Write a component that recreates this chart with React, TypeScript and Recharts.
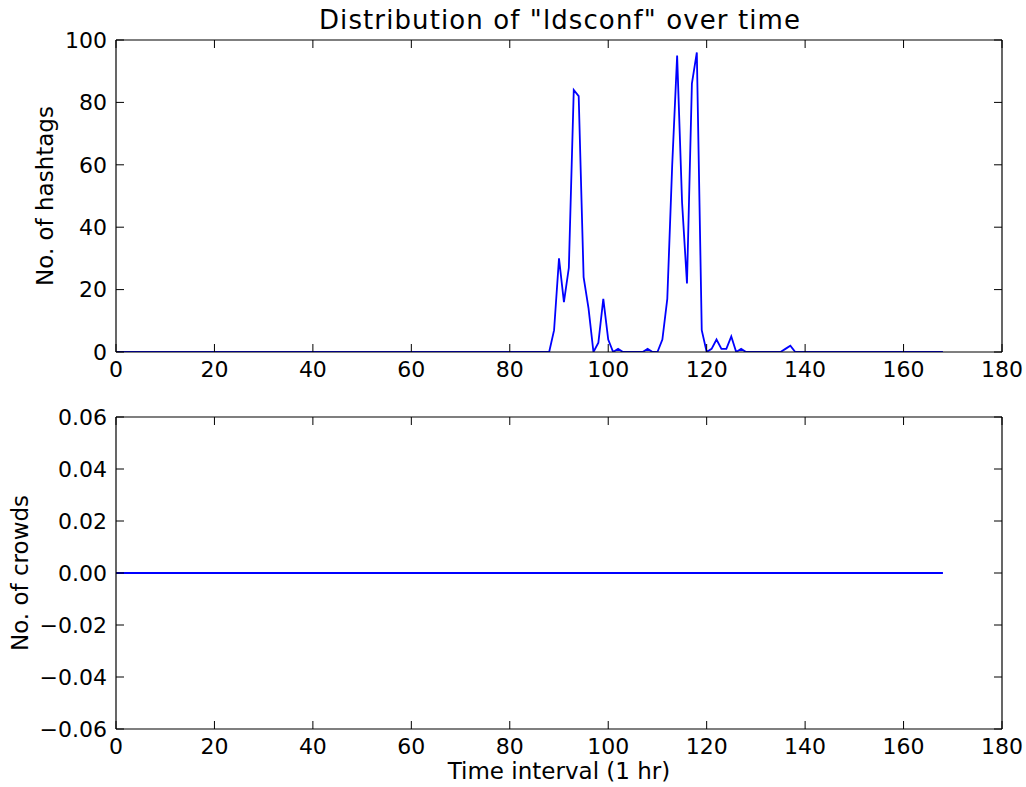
import React from "react";
import { LineChart, Line, XAxis, YAxis, ReferenceLine } from "recharts";

// hourly counts, t = 0..168
const hashtagCounts = [
  0, 0, 0, 0, 0, 0, 0, 0, 0, 0,
  0, 0, 0, 0, 0, 0, 0, 0, 0, 0,
  0, 0, 0, 0, 0, 0, 0, 0, 0, 0,
  0, 0, 0, 0, 0, 0, 0, 0, 0, 0,
  0, 0, 0, 0, 0, 0, 0, 0, 0, 0,
  0, 0, 0, 0, 0, 0, 0, 0, 0, 0,
  0, 0, 0, 0, 0, 0, 0, 0, 0, 0,
  0, 0, 0, 0, 0, 0, 0, 0, 0, 0,
  0, 0, 0, 0, 0, 0, 0, 0, 0, 7,
  30, 16, 27, 84, 82, 24, 14, 0, 3, 17,
  4, 0, 1, 0, 0, 0, 0, 0, 1, 0,
  0, 4, 17, 60, 95, 48, 22, 86, 96, 7,
  0, 1, 4, 1, 1, 5, 0, 1, 0, 0,
  0, 0, 0, 0, 0, 0, 1, 2, 0, 0,
  0, 0, 0, 0, 0, 0, 0, 0, 0, 0,
  0, 0, 0, 0, 0, 0, 0, 0, 0, 0,
  0, 0, 0, 0, 0, 0, 0, 0, 0,
];

const crowdCounts = [
  0, 0, 0, 0, 0, 0, 0, 0, 0, 0,
  0, 0, 0, 0, 0, 0, 0, 0, 0, 0,
  0, 0, 0, 0, 0, 0, 0, 0, 0, 0,
  0, 0, 0, 0, 0, 0, 0, 0, 0, 0,
  0, 0, 0, 0, 0, 0, 0, 0, 0, 0,
  0, 0, 0, 0, 0, 0, 0, 0, 0, 0,
  0, 0, 0, 0, 0, 0, 0, 0, 0, 0,
  0, 0, 0, 0, 0, 0, 0, 0, 0, 0,
  0, 0, 0, 0, 0, 0, 0, 0, 0, 0,
  0, 0, 0, 0, 0, 0, 0, 0, 0, 0,
  0, 0, 0, 0, 0, 0, 0, 0, 0, 0,
  0, 0, 0, 0, 0, 0, 0, 0, 0, 0,
  0, 0, 0, 0, 0, 0, 0, 0, 0, 0,
  0, 0, 0, 0, 0, 0, 0, 0, 0, 0,
  0, 0, 0, 0, 0, 0, 0, 0, 0, 0,
  0, 0, 0, 0, 0, 0, 0, 0, 0, 0,
  0, 0, 0, 0, 0, 0, 0, 0, 0,
];

const xTicks = [0, 20, 40, 60, 80, 100, 120, 140, 160, 180];
const hashtagTicks = [0, 20, 40, 60, 80, 100];
const crowdTicks = [-0.06, -0.04, -0.02, 0, 0.02, 0.04, 0.06];

const FONT = "'DejaVu Sans', sans-serif";
const LINE_COLOR = "#0000ff";
const PLOT_W = 886;
const PLOT_H = 312;
const TICK_LEN = 8;
const TICK_FONT = 22;

const hashtagData = hashtagCounts.map((v, i) => ({ t: i, v }));
const crowdData = crowdCounts.map((v, i) => ({ t: i, v }));

const axisLine = { stroke: "#000", strokeWidth: 1.2 };

const fmtCrowd = (v: number) => {
  const s = Math.abs(v).toFixed(2);
  return v < 0 ? "\u2212" + s : s;
};

// ticks point inwards on all four sides, like matplotlib's classic style
function XTick(props: any) {
  const { x, y, payload } = props;
  return (
    <g>
      <line x1={x} x2={x} y1={y} y2={y - TICK_LEN} stroke="#000" />
      <line
        x1={x}
        x2={x}
        y1={y - PLOT_H}
        y2={y - PLOT_H + TICK_LEN}
        stroke="#000"
      />
      <text
        x={x}
        y={y + 9}
        dy="0.71em"
        textAnchor="middle"
        fontFamily={FONT}
        fontSize={TICK_FONT}
        fill="#000"
      >
        {payload.value}
      </text>
    </g>
  );
}

function makeYTick(fmt?: (v: number) => string) {
  return function YTick(props: any) {
    const { x, y, payload } = props;
    return (
      <g>
        <line x1={x} x2={x + TICK_LEN} y1={y} y2={y} stroke="#000" />
        <line
          x1={x + PLOT_W}
          x2={x + PLOT_W - TICK_LEN}
          y1={y}
          y2={y}
          stroke="#000"
        />
        <text
          x={x - 9}
          y={y}
          dy="0.355em"
          textAnchor="end"
          fontFamily={FONT}
          fontSize={TICK_FONT}
          fill="#000"
        >
          {fmt ? fmt(payload.value) : payload.value}
        </text>
      </g>
    );
  };
}

function Panel({
  data,
  yDomain,
  yTicks,
  yFormat,
}: {
  data: Array<{ t: number; v: number }>;
  yDomain: [number, number];
  yTicks: number[];
  yFormat?: (v: number) => string;
}) {
  const YTick = makeYTick(yFormat);
  return (
    <LineChart
      width={1026}
      height={390}
      data={data}
      margin={{ top: 40, right: 24, bottom: 8, left: 56 }}
    >
      <XAxis
        dataKey="t"
        type="number"
        domain={[0, 180]}
        ticks={xTicks}
        allowDataOverflow
        height={30}
        tickSize={0}
        tickMargin={0}
        axisLine={axisLine}
        tickLine={false}
        tick={(p: any) => <XTick {...p} />}
      />
      <YAxis
        type="number"
        domain={yDomain}
        ticks={yTicks}
        allowDataOverflow
        width={60}
        tickSize={0}
        tickMargin={0}
        axisLine={axisLine}
        tickLine={false}
        tick={(p: any) => <YTick {...p} />}
      />
      <ReferenceLine y={yDomain[1]} stroke="#000" strokeWidth={1.2} />
      <ReferenceLine x={180} stroke="#000" strokeWidth={1.2} />
      <Line
        dataKey="v"
        stroke={LINE_COLOR}
        strokeWidth={1.8}
        dot={false}
        isAnimationActive={false}
      />
    </LineChart>
  );
}

export default function App() {
  return (
    <div
      style={{
        position: "fixed",
        left: 0,
        top: 0,
        width: 1026,
        height: 787,
        background: "#fff",
        fontFamily: FONT,
        color: "#000",
      }}
    >
      <div style={{ position: "absolute", left: 0, top: 0 }}>
        <Panel data={hashtagData} yDomain={[0, 100]} yTicks={hashtagTicks} />
      </div>
      <div style={{ position: "absolute", left: 0, top: 377 }}>
        <Panel
          data={crowdData}
          yDomain={[-0.06, 0.06]}
          yTicks={crowdTicks}
          yFormat={fmtCrowd}
        />
      </div>

      <svg
        width={1026}
        height={787}
        style={{ position: "absolute", left: 0, top: 0, pointerEvents: "none" }}
      >
        <text
          x={560}
          y={29}
          textAnchor="middle"
          fontFamily={FONT}
          fontSize={26}
          letterSpacing={1.1}
          fill="#000"
        >
          Distribution of "ldsconf" over time
        </text>
        <text
          x={53}
          y={196}
          transform="rotate(-90 53 196)"
          textAnchor="middle"
          fontFamily={FONT}
          fontSize={23}
          fill="#000"
        >
          No. of hashtags
        </text>
        <text
          x={28}
          y={573}
          transform="rotate(-90 28 573)"
          textAnchor="middle"
          fontFamily={FONT}
          fontSize={23}
          fill="#000"
        >
          No. of crowds
        </text>
        <text
          x={559}
          y={779}
          textAnchor="middle"
          fontFamily={FONT}
          fontSize={23}
          fill="#000"
        >
          Time interval (1 hr)
        </text>
      </svg>
    </div>
  );
}
